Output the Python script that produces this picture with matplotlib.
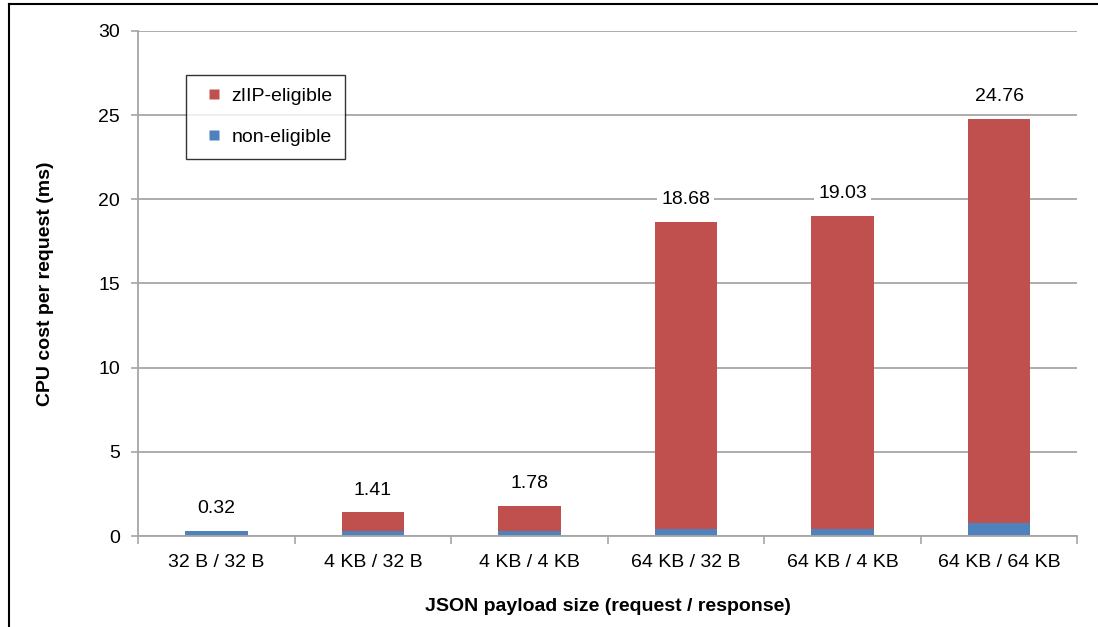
import matplotlib.pyplot as plt
from matplotlib.lines import Line2D
import numpy as np

categories = ['32 B / 32 B', '4 KB / 32 B', '4 KB / 4 KB',
              '64 KB / 32 B', '64 KB / 4 KB', '64 KB / 64 KB']
totals = [0.32, 1.41, 1.78, 18.68, 19.03, 24.76]
non_eligible = [0.27, 0.28, 0.30, 0.42, 0.42, 0.75]
ziip_eligible = [t - n for t, n in zip(totals, non_eligible)]

plt.rcParams['font.family'] = ['Liberation Sans', 'DejaVu Sans']
fs = 14

fig = plt.figure(figsize=(10.98, 6.27), dpi=100)
ax = fig.add_axes([0.1257, 0.1451, 0.8555, 0.8055])

x = np.arange(len(categories))
width = 0.4
blue = '#4F81BD'
red = '#C0504D'
grid_col = '#A6A6A6'

ax.bar(x, non_eligible, width, color=blue, zorder=2)
ax.bar(x, ziip_eligible, width, bottom=non_eligible, color=red, zorder=2)

# total labels above each bar, white box over the gridlines
for xi, t in zip(x, totals):
    ax.annotate(f'{t:.2f}', xy=(xi, t), xytext=(0, 16), textcoords='offset points',
                ha='center', va='center', fontsize=fs, zorder=4,
                bbox=dict(facecolor='white', edgecolor='none', pad=3))

ax.set_xlim(-0.5, len(categories) - 0.5)
ax.set_ylim(0, 30)
ax.set_yticks(np.arange(0, 31, 5))
ax.yaxis.grid(True, color=grid_col, linewidth=1.3, zorder=0)
ax.set_axisbelow(True)

# category ticks between bars, labels centred
ax.set_xticks(np.arange(-0.5, len(categories), 1))
ax.set_xticklabels([])
ax.set_xticks(x, minor=True)
ax.set_xticklabels(categories, minor=True, fontsize=fs)
ax.tick_params(axis='x', which='minor', length=0, pad=13)
ax.tick_params(axis='x', which='major', length=6, color=grid_col, width=1.2)
ax.tick_params(axis='y', length=5, color=grid_col, width=1.2, labelsize=fs, pad=8)

for s in ['top', 'right']:
    ax.spines[s].set_visible(False)
for s in ['left', 'bottom']:
    ax.spines[s].set_color(grid_col)
    ax.spines[s].set_linewidth(1.3)

ax.set_ylabel('CPU cost per request (ms)', fontsize=fs, fontweight='bold')
ax.yaxis.set_label_coords(-0.089, 0.5)
ax.set_xlabel('JSON payload size (request / response)', fontsize=fs, fontweight='bold')
ax.xaxis.set_label_coords(0.5, -0.123)

handles = [Line2D([], [], linestyle='none', marker='s', markersize=7.5,
                  markerfacecolor=red, markeredgecolor='none'),
           Line2D([], [], linestyle='none', marker='s', markersize=7.5,
                  markerfacecolor=blue, markeredgecolor='none')]
leg = ax.legend(handles, ['zIIP-eligible', 'non-eligible'], loc='upper left',
                bbox_to_anchor=(0.051, 0.913), fontsize=fs, frameon=True,
                fancybox=False, edgecolor='black', handlelength=1.6,
                handletextpad=0.1, labelspacing=1.2,
                borderpad=0.65, borderaxespad=0)
leg.get_frame().set_linewidth(1.0)
leg.set_zorder(5)

# partial outer border (top and left) as in the source image
fig.add_artist(Line2D([9 / 1098, 1], [1 - 4 / 627, 1 - 4 / 627],
                      color='black', linewidth=1.5, transform=fig.transFigure))
fig.add_artist(Line2D([9 / 1098, 9 / 1098], [0, 1 - 4 / 627],
                      color='black', linewidth=1.5, transform=fig.transFigure))

fig.savefig('out.png', dpi=100)
